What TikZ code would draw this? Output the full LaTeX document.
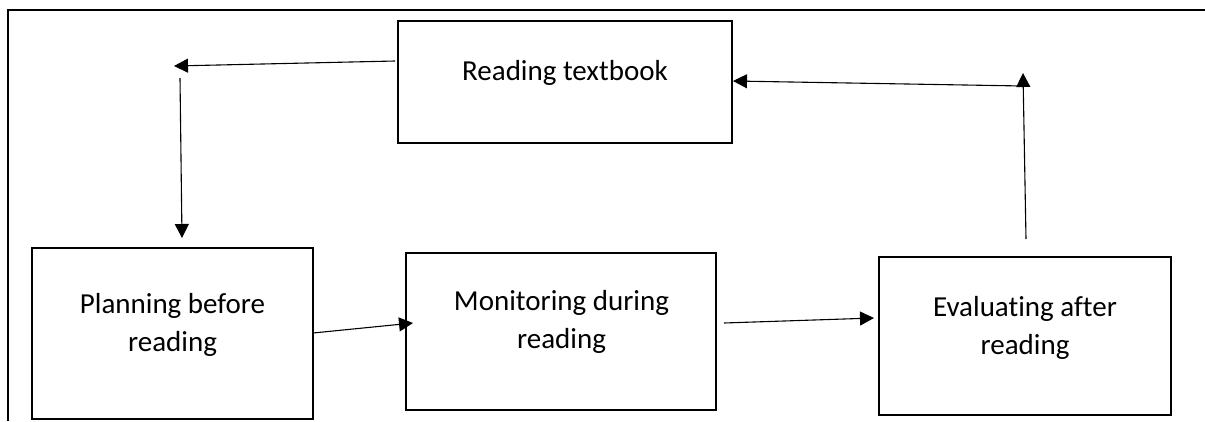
\documentclass[tikz,border=0pt]{standalone}
\usepackage{fontspec}
\setmainfont{Carlito}[RawFeature={-liga;-calt;-clig}]
\usetikzlibrary{arrows.meta}
\begin{document}
\begin{tikzpicture}[x=1pt,y=-1pt,
  box/.style={draw, line width=2.2pt, inner sep=0pt, outer sep=0pt},
  lbl/.style={inner sep=0pt, align=center, font=\fontsize{29}{38}\selectfont},
  arr/.style={line width=1.1pt, -{Triangle[length=14pt,width=14pt]}},
  frame/.style={line width=2.8pt}]
\useasboundingbox (0,0) rectangle (1205,421);
% outer frame
\coordinate (f1) at (8,421);
\coordinate (f2) at (8,10);
\coordinate (f3) at (1205,10);
\draw[frame] (f1) -- (f2) -- (f3);
% boxes
\node[box, minimum width=334pt, minimum height=122pt] (R) at (565,82) {};
\node[box, minimum width=281pt, minimum height=171pt] (P) at (172.5,333.5) {};
\node[box, minimum width=310pt, minimum height=157pt] (M) at (561,331.5) {};
\node[box, minimum width=292pt, minimum height=158pt] (E) at (1025,336) {};
% texts
\node[lbl, anchor=base] (Rt) at (565,80) {Reading textbook};
\node[lbl] (Pt) at (172.5,325) {Planning before\\reading};
\node[lbl] (Mt) at (561.5,322) {Monitoring during\\reading};
\node[lbl] (Et) at (1025,327.5) {Evaluating after\\reading};
% connector end points
\coordinate (a1s) at (395,61);
\coordinate (a1e) at (174,66);
\coordinate (a2s) at (180,78);
\coordinate (a2e) at (182,238);
\coordinate (a3s) at (313,333);
\coordinate (a3e) at (413,323);
\coordinate (a4s) at (724,323);
\coordinate (a4e) at (874,318);
\coordinate (a5s) at (1026,239);
\coordinate (a5e) at (1023,73);
\coordinate (a6s) at (1023,86);
\coordinate (a6e) at (733,81);
\draw[arr] (a1s) -- (a1e);
\draw[arr] (a2s) -- (a2e);
\draw[arr] (a3s) -- (a3e);
\draw[arr] (a4s) -- (a4e);
\draw[arr] (a5s) -- (a5e);
\draw[arr] (a6s) -- (a6e);
\end{tikzpicture}
\end{document}
